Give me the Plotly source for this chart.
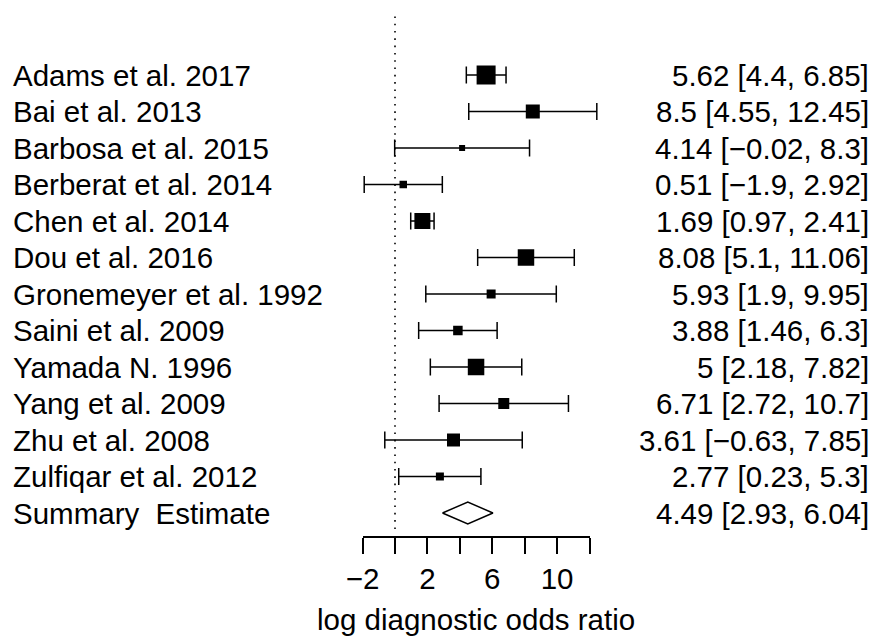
import plotly.graph_objects as go

# ---------------- data ----------------
studies = ["Adams et al. 2017", "Bai et al. 2013", "Barbosa et al. 2015",
           "Berberat et al. 2014", "Chen et al. 2014", "Dou et al. 2016",
           "Gronemeyer et al. 1992", "Saini et al. 2009", "Yamada N. 1996",
           "Yang et al. 2009", "Zhu et al. 2008", "Zulfiqar et al. 2012"]
estimate = [5.62, 8.5, 4.14, 0.51, 1.69, 8.08, 5.93, 3.88, 5.0, 6.71, 3.61, 2.77]
ci_low = [4.4, 4.55, -0.02, -1.9, 0.97, 5.1, 1.9, 1.46, 2.18, 2.72, -0.63, 0.23]
ci_high = [6.85, 12.45, 8.3, 2.92, 2.41, 11.06, 9.95, 6.3, 7.82, 10.7, 7.85, 5.3]
box_size = [19, 14, 6, 7.5, 16, 16.5, 9, 9.5, 16.5, 11, 13, 8]   # study weights (px)

summary_label = "Summary \u00a0Estimate"
summary_est, summary_low, summary_high = 4.49, 2.93, 6.04

tick_values = [-2, 0, 2, 4, 6, 8, 10, 12]
tick_labels = ["\u22122", "", "2", "", "6", "", "10", ""]
x_title = "log diagnostic odds ratio"

# ---------------- layout geometry ----------------
W, H = 875, 640
X0_PX = 395.0      # pixel of x = 0
PPU = 16.21        # pixels per unit
ROW0_PX = 75.0     # pixel of first row
PITCH = 36.5       # pixels per row
AXIS_PX = 537.0    # pixel of axis line

FONT = "Liberation Sans, Arial, Helvetica, sans-serif"
FS = 29.5


def fmt(v):
    return f"{v:g}".replace("-", "\u2212")


n = len(studies)
rows = [-i for i in range(n)]
summary_row = -n

fig = go.Figure()

# dummy trace for the visible axis (drawn first so it sits beneath)
fig.add_trace(go.Scatter(x=[None], y=[None], xaxis="x2", yaxis="y",
                         showlegend=False, hoverinfo="skip"))

# study estimates with CIs
fig.add_trace(go.Scatter(
    x=estimate, y=rows, mode="markers", opacity=1,
    marker=dict(symbol="square", size=box_size, color="#000000", opacity=1,
                line=dict(width=0, color="#000000")),
    error_x=dict(type="data", symmetric=False,
                 array=[h - e for h, e in zip(ci_high, estimate)],
                 arrayminus=[e - l for e, l in zip(estimate, ci_low)],
                 color="#000000", thickness=1.5, width=8.5),
    hoverinfo="skip", showlegend=False))

# summary diamond
dh = 11.0 / PITCH
fig.add_trace(go.Scatter(
    x=[summary_low, summary_est, summary_high, summary_est, summary_low],
    y=[summary_row, summary_row + dh, summary_row, summary_row - dh, summary_row],
    mode="lines", fill="toself", fillcolor="white",
    line=dict(color="black", width=1.5),
    hoverinfo="skip", showlegend=False))

# reference line at 0
fig.add_shape(type="line", xref="x", yref="paper", x0=0, x1=0,
              y0=1 - 529 / H, y1=1 - 14 / H,
              line=dict(color="black", width=1.6, dash="1.6px,5.7px"))

annotations = []
for i, s in enumerate(studies):
    annotations.append(dict(xref="paper", yref="y", x=11 / W, y=rows[i], text=s,
                            xanchor="left", yanchor="middle", showarrow=False))
    annotations.append(dict(xref="paper", yref="y", x=871 / W, y=rows[i],
                            text=f"{fmt(estimate[i])} [{fmt(ci_low[i])}, {fmt(ci_high[i])}]",
                            xanchor="right", yanchor="middle", showarrow=False))
annotations.append(dict(xref="paper", yref="y", x=11 / W, y=summary_row, text=summary_label,
                        xanchor="left", yanchor="middle", showarrow=False))
annotations.append(dict(xref="paper", yref="y", x=871 / W, y=summary_row,
                        text=f"{fmt(summary_est)} [{fmt(summary_low)}, {fmt(summary_high)}]",
                        xanchor="right", yanchor="middle", showarrow=False))
annotations.append(dict(xref="paper", yref="paper", x=(X0_PX + 5 * PPU) / W, y=1 - 619 / H,
                        text=x_title, xanchor="center", yanchor="middle", showarrow=False))

fig.update_layout(
    width=W, height=H, autosize=False,
    margin=dict(l=0, r=0, t=0, b=0, pad=0, autoexpand=False),
    paper_bgcolor="white", plot_bgcolor="rgba(0,0,0,0)",
    font=dict(family=FONT, size=FS, color="black"),
    annotations=annotations,
    xaxis=dict(range=[-X0_PX / PPU, (W - X0_PX) / PPU], visible=False, fixedrange=True,
               automargin=False),
    yaxis=dict(range=[-(H - ROW0_PX) / PITCH, ROW0_PX / PITCH], visible=False, fixedrange=True,
               automargin=False),
    xaxis2=dict(domain=[(X0_PX - 2 * PPU) / W, (X0_PX + 12 * PPU) / W],
                range=[-2, 12], anchor="free", position=1 - AXIS_PX / H,
                side="bottom", automargin=False,
                showline=True, linecolor="black", linewidth=1.5,
                ticks="outside", ticklen=16, tickwidth=1.5, tickcolor="black",
                tickmode="array", tickvals=tick_values, ticktext=tick_labels,
                tickfont=dict(family=FONT, size=FS, color="black"),
                showgrid=False, zeroline=False, fixedrange=True),
    showlegend=False,
)

fig.write_html("out.html")
